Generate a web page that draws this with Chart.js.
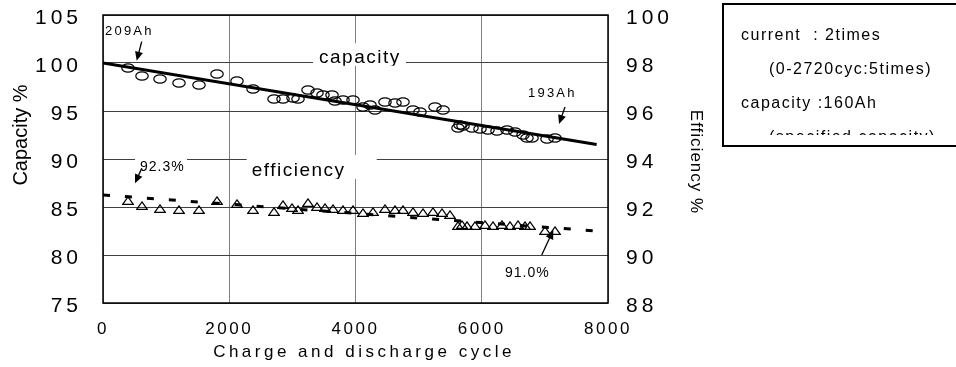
<!DOCTYPE html>
<html>
<head>
<meta charset="utf-8">
<script src="https://cdn.jsdelivr.net/npm/chart.js@4.4.1/dist/chart.umd.min.js"></script>
<style>
  html, body { margin: 0; padding: 0; background: #fff; }
  #wrap { width: 956px; height: 367px; }
</style>
</head>
<body>
<div id="wrap"><canvas id="cycleChart" width="956" height="367"></canvas></div>
<script>
// capacity (%) measured points
const capCycles = [400, 610, 900, 1210, 1525, 1800, 2120, 2370, 2715, 2855, 3015, 3095, 3250, 3385, 3490, 3620, 3675, 3805, 3965,
    4125, 4230, 4310, 4465, 4625, 4760, 4915, 5020, 5260, 5390, 5630, 5655, 5710, 5840, 5970, 6105, 6235, 6395, 6525, 6660, 6710, 6790, 7030, 7160];
const capValues = [99.45, 98.6, 98.3, 97.95, 97.7, 98.9, 98.1, 97.25, 96.2, 96.3, 96.4, 96.3, 97.2, 96.85, 96.7, 96.7, 96.0, 96.15, 96.1,
    95.4, 95.6, 95.1, 95.9, 95.8, 95.9, 95.1, 94.9, 95.45, 95.1, 93.2, 93.5, 93.4, 93.2, 93.1, 93.0, 92.95, 93.0, 92.85, 92.5, 92.15, 92.15, 92.05, 92.15];

// efficiency (%) measured points, right axis
const effCycles = [400, 610, 900, 1210, 1525, 1800, 2120, 2370, 2715, 2855, 2990, 3095, 3250, 3385, 3515, 3650, 3805, 3965, 4125, 4280,
    4465, 4625, 4760, 4915, 5075, 5230, 5365, 5500, 5630, 5680, 5760, 5895, 6050, 6185, 6315, 6450, 6580, 6685, 6765, 7000, 7160];
const effValues = [92.26, 92.08, 91.94, 91.88, 91.88, 92.29, 92.15, 91.9, 91.8, 92.1, 91.99, 91.88, 92.18, 92.01, 91.99, 91.95, 91.9, 91.9, 91.76, 91.8,
    91.95, 91.9, 91.88, 91.8, 91.76, 91.8, 91.76, 91.67, 91.25, 91.29, 91.25, 91.25, 91.28, 91.25, 91.28, 91.25, 91.28, 91.25, 91.25, 91.04, 91.04];

// trend lines
const capTrendCycles = [0, 7820];
const capTrendValues = [100, 91.5];
const effTrendCycles = [0, 7820];
const effTrendValues = [92.5, 91.0];

// axis ticks
const xTicks = [0, 2000, 4000, 6000, 8000];
const capTicks = [75, 80, 85, 90, 95, 100, 105];
const effTicks = [88, 90, 92, 94, 96, 98, 100];

const legendLines = ['current  : 2times', '(0-2720cyc:5times)', 'capacity :160Ah', '(specified capacity)'];

const FONT = "'Liberation Sans', Arial, sans-serif";
const pairs = (xs, ys) => xs.map((x, i) => ({ x: x, y: ys[i] }));

// hollow ellipse / triangle markers
function marker(w, h, draw) {
    const c = document.createElement('canvas');
    c.width = w; c.height = h;
    const g = c.getContext('2d');
    g.strokeStyle = '#000';
    g.lineWidth = 1.2;
    draw(g, w, h);
    return c;
}
const ellipseMark = marker(14, 10, (g, w, h) => {
    g.beginPath();
    g.ellipse(w / 2, h / 2, w / 2 - 0.8, h / 2 - 0.8, 0, 0, Math.PI * 2);
    g.stroke();
});
const triangleMark = marker(12, 9, (g, w, h) => {
    g.beginPath();
    g.moveTo(w / 2, 0.9);
    g.lineTo(w - 0.7, h - 0.7);
    g.lineTo(0.7, h - 0.7);
    g.closePath();
    g.stroke();
});

// annotations, positioned in data units (axis: 'y' = capacity, 'y2' = efficiency)
const notes = [
    { text: '209Ah', axis: 'y', x: 32, y: 102.92, size: 13, spacing: 2.2, arrow: [613, 102.22, 534, 100.24] },
    { text: '193Ah', axis: 'y', x: 6733, y: 96.41, size: 13, spacing: 2.2, arrow: [7319, 95.42, 7224, 93.65] },
    { text: '92.3%', axis: 'y2', x: 586, y: 93.48, size: 14, spacing: 1, arrow: [613, 93.61, 507, 92.99], box: [-5, -21, 52, 25] },
    { text: '91.0%', axis: 'y2', x: 6368, y: 89.08, size: 14, spacing: 1, arrow: [6950, 90.0, 7134, 91.04] },
    { text: 'capacity', axis: 'y', x: 3422, y: 99.97, size: 19, spacing: 1.5, box: [-6, -20, 93, 22.5] },
    { text: 'efficiency', axis: 'y2', x: 2356, y: 93.29, size: 19, spacing: 1.5, box: [-5, -21, 130, 24] }
];

function drawArrow(ctx, x1, y1, x2, y2) {
    const a = Math.atan2(y2 - y1, x2 - x1);
    const len = 9, half = 4;
    ctx.beginPath();
    ctx.moveTo(x1, y1);
    ctx.lineTo(x2 - Math.cos(a) * len * 0.8, y2 - Math.sin(a) * len * 0.8);
    ctx.stroke();
    ctx.beginPath();
    ctx.moveTo(x2, y2);
    ctx.lineTo(x2 - Math.cos(a) * len - Math.sin(a) * half, y2 - Math.sin(a) * len + Math.cos(a) * half);
    ctx.lineTo(x2 - Math.cos(a) * len + Math.sin(a) * half, y2 - Math.sin(a) * len - Math.cos(a) * half);
    ctx.closePath();
    ctx.fill();
}

const labelSpacing = { x: '2.5px', y: '4px', y2: '4px' };

const decor = {
    id: 'decor',
    beforeDraw(chart) {
        // letter-spaced tick labels
        Object.values(chart.scales).forEach(s => {
            if (s._spaced) return;
            const orig = s.drawLabels;
            s.drawLabels = function (area) {
                this.ctx.save();
                this.ctx.letterSpacing = labelSpacing[this.id] || '0px';
                orig.call(this, area);
                this.ctx.restore();
            };
            s._spaced = true;
        });
    },
    beforeDatasetsDraw(chart) {
        const { ctx, chartArea: a, scales } = chart;
        ctx.save();
        // white label boxes over the grid
        notes.forEach(n => {
            if (!n.box) return;
            const px = scales.x.getPixelForValue(n.x);
            const py = scales[n.axis].getPixelForValue(n.y);
            ctx.fillStyle = '#fff';
            ctx.fillRect(px + n.box[0], py + n.box[1], n.box[2], n.box[3]);
        });
        // plot frame
        ctx.strokeStyle = '#000';
        ctx.lineWidth = 1.5;
        ctx.strokeRect(a.left, a.top, a.right - a.left, a.bottom - a.top);
        ctx.restore();
        // crisp marker images
        ctx.imageSmoothingEnabled = false;
    },
    afterDatasetsDraw(chart) {
        chart.ctx.imageSmoothingEnabled = true;
    },
    afterDraw(chart) {
        const { ctx, scales } = chart;
        ctx.save();
        ctx.fillStyle = '#000';
        ctx.strokeStyle = '#000';
        ctx.lineWidth = 1.3;
        ctx.textBaseline = 'alphabetic';

        notes.forEach(n => {
            const px = scales.x.getPixelForValue(n.x);
            const py = scales[n.axis].getPixelForValue(n.y);
            ctx.save();
            if (n.box) {
                ctx.beginPath();
                ctx.rect(px + n.box[0], py + n.box[1], n.box[2], n.box[3]);
                ctx.clip();
            }
            ctx.font = n.size + 'px ' + FONT;
            ctx.letterSpacing = n.spacing + 'px';
            ctx.textAlign = 'left';
            ctx.fillText(n.text, px, py);
            ctx.restore();
            if (n.arrow) {
                const s = scales[n.axis];
                drawArrow(ctx,
                    scales.x.getPixelForValue(n.arrow[0]), s.getPixelForValue(n.arrow[1]),
                    scales.x.getPixelForValue(n.arrow[2]), s.getPixelForValue(n.arrow[3]));
            }
        });

        // axis titles
        ctx.textAlign = 'center';
        ctx.font = '20px ' + FONT;
        ctx.letterSpacing = '0px';
        ctx.save();
        ctx.translate(26.5, 135);
        ctx.rotate(-Math.PI / 2);
        ctx.fillText('Capacity %', 0, 0);
        ctx.restore();

        ctx.font = '17px ' + FONT;
        ctx.letterSpacing = '1px';
        ctx.save();
        ctx.translate(690.5, 162);
        ctx.rotate(Math.PI / 2);
        ctx.fillText('Efficiency %', 0, 0);
        ctx.restore();

        ctx.font = '17px ' + FONT;
        ctx.letterSpacing = '3.5px';
        ctx.fillText('Charge and discharge cycle', 364, 357);

        // condition box
        ctx.lineWidth = 2;
        ctx.strokeRect(723, 4, 300, 142);
        ctx.save();
        ctx.beginPath();
        ctx.rect(724, 5, 232, 130);
        ctx.clip();
        ctx.font = '16px ' + FONT;
        ctx.letterSpacing = '1.5px';
        ctx.textAlign = 'left';
        const lx = [741, 769, 741, 769];
        const ly = [40, 74, 108, 142];
        legendLines.forEach((t, i) => ctx.fillText(t, lx[i], ly[i]));
        ctx.restore();
        ctx.restore();
    }
};

const ticksFrom = list => scale => { scale.ticks = list.map(v => ({ value: v })); };
const noPad = s => { s.paddingTop = 0; s.paddingBottom = 0; s.paddingLeft = 0; s.paddingRight = 0; };

new Chart(document.getElementById('cycleChart'), {
    type: 'scatter',
    data: {
        datasets: [
            {
                label: 'capacity trend',
                type: 'line',
                data: pairs(capTrendCycles, capTrendValues),
                yAxisID: 'y',
                borderColor: '#000',
                borderWidth: 3,
                pointRadius: 0,
                fill: false
            },
            {
                label: 'efficiency trend',
                type: 'line',
                data: pairs(effTrendCycles, effTrendValues),
                yAxisID: 'y2',
                borderColor: '#000',
                borderWidth: 3,
                borderDash: [7, 15],
                pointRadius: 0,
                fill: false
            },
            {
                label: 'capacity',
                data: pairs(capCycles, capValues),
                yAxisID: 'y',
                pointStyle: ellipseMark
            },
            {
                label: 'efficiency',
                data: pairs(effCycles, effValues),
                yAxisID: 'y2',
                pointStyle: triangleMark
            }
        ]
    },
    options: {
        responsive: false,
        animation: false,
        events: [],
        layout: { padding: { top: 15, left: 0, right: 0, bottom: 0 } },
        plugins: { legend: { display: false }, tooltip: { enabled: false } },
        scales: {
            x: {
                type: 'linear',
                min: 0, max: 8000,
                afterBuildTicks: ticksFrom(xTicks),
                afterFit: s => { s.height = 64; noPad(s); },
                grid: { color: '#808080', lineWidth: 1, drawTicks: false },
                border: { display: false },
                ticks: { color: '#000', font: { family: FONT, size: 17 }, padding: 16, maxRotation: 0, autoSkip: false, callback: v => String(v) }
            },
            y: {
                position: 'left',
                min: 75, max: 105,
                afterBuildTicks: ticksFrom(capTicks),
                afterFit: s => { s.width = 103; noPad(s); },
                grid: { color: '#404040', lineWidth: 1, drawTicks: false },
                border: { display: false },
                ticks: { color: '#000', font: { family: FONT, size: 21 }, padding: 21, labelOffset: 3, callback: v => String(v) }
            },
            y2: {
                position: 'right',
                min: 88, max: 100,
                afterBuildTicks: ticksFrom(effTicks),
                afterFit: s => { s.width = 348; noPad(s); },
                grid: { display: false, drawTicks: false },
                border: { display: false },
                ticks: { color: '#000', font: { family: FONT, size: 21 }, padding: 18, labelOffset: 3, callback: v => String(v) }
            }
        }
    },
    plugins: [decor]
});
</script>
</body>
</html>
